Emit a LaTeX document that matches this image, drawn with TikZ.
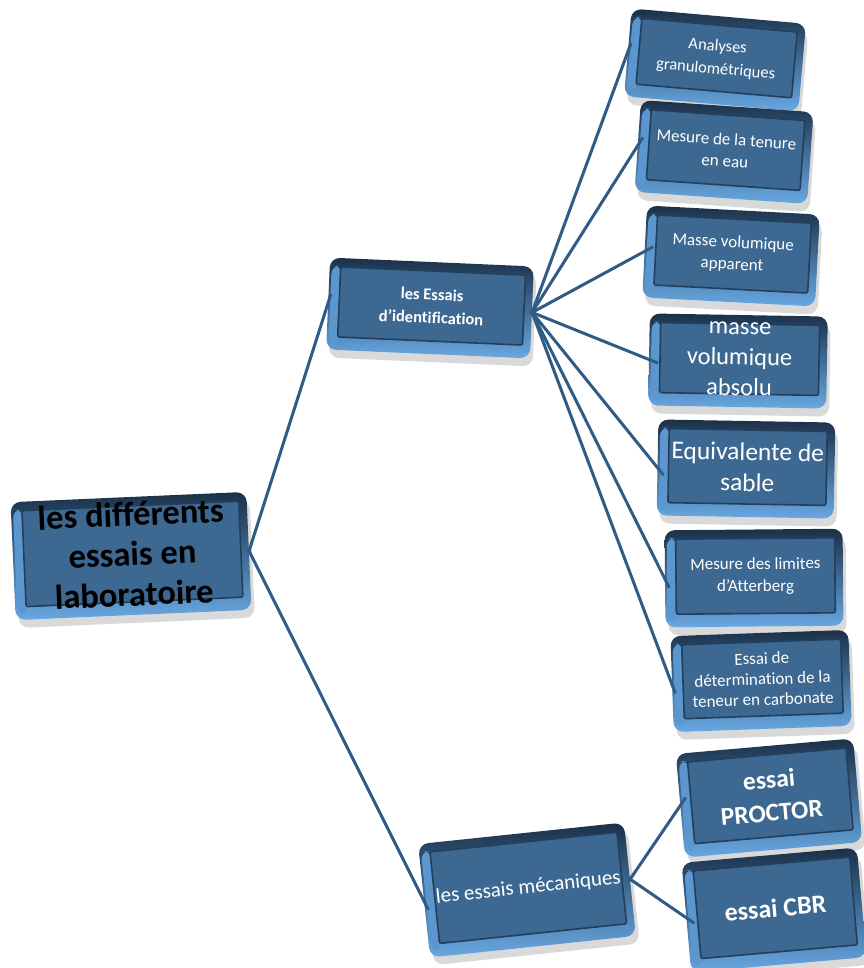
\documentclass[tikz,border=0pt]{standalone}
\usepackage{fontspec}
\setmainfont{Carlito}[Ligatures=NoCommon]
\definecolor{face}{HTML}{3D6891}
\definecolor{edgeD}{HTML}{1B3048}
\definecolor{edgeL}{HTML}{68A8E2}
\definecolor{edgeM}{HTML}{3B6E9E}
\definecolor{faceline}{HTML}{22405E}
\definecolor{conn}{HTML}{2F5B85}
\tikzset{
  conline/.style={draw=conn, line width=3pt, shorten >=-10pt, shorten <=-2pt},
  boxtext/.style={transform shape, text=white, align=center, inner sep=0pt},
}
\newcommand\mkbox[8]{%
\begin{scope}[shift={(#2,#3)},rotate=#6]
  \fill[black,opacity=.15,rounded corners=10pt] ({-#4/2+3},{-#5/2+8}) rectangle ({#4/2+3},{#5/2+8});
  \shade[rounded corners=10pt, top color=edgeD, middle color=edgeM, bottom color=edgeL] ({-#4/2},{-#5/2}) rectangle ({#4/2},{#5/2});
  \fill[edgeL!70!edgeM, rounded corners=8pt] ({-#4/2+2},{-#5/2+8}) rectangle ({-#4/2+12},{#5/2-6});
  \fill[face, draw=faceline, line width=1.6pt, rounded corners=2pt] ({-#4/2+11},{-#5/2+9}) rectangle ({#4/2-8},{#5/2-13});
  \node[transform shape, minimum width=#4pt, minimum height=#5pt, inner sep=0pt] (#1) at (0,0) {};
  \node[boxtext, #7] at (1.5,-2) {#8};
\end{scope}}
\begin{document}
\begin{tikzpicture}[x=1pt,y=-1pt]
\useasboundingbox (0,0) rectangle (863,968);
% level 1
\mkbox{root}{131}{556}{236}{118}{2.5}{font=\fontsize{34.5}{40}\selectfont\bfseries, text=black}{les différents\\essais en\\laboratoire}
% level 2
\mkbox{ident}{430}{308}{204}{92}{-2.5}{font=\fontsize{16.5}{23}\selectfont\bfseries}{les Essais\\d’identification}
\mkbox{meca}{527}{890}{207}{114}{6}{font=\fontsize{21}{24}\selectfont}{les essais mécaniques}
% level 3
\mkbox{a1}{715}{60}{175}{88}{-5}{font=\fontsize{16.5}{23}\selectfont}{Analyses\\granulométriques}
\mkbox{a2}{724}{152}{173}{92}{-4}{font=\fontsize{17}{22}\selectfont}{Mesure de la tenure\\en eau}
\mkbox{a3}{731}{256}{173}{92}{-3}{font=\fontsize{17}{22}\selectfont}{Masse volumique\\apparent}
\mkbox{a4}{738}{361}{178}{92}{-1}{font=\fontsize{24.5}{30.5}\selectfont}{masse\\volumique\\absolu}
\mkbox{a5}{746}{469}{177}{96}{-1}{font=\fontsize{25.5}{31}\selectfont}{Equivalente de\\sable}
\mkbox{a6}{754}{578}{178}{97}{0.5}{font=\fontsize{17}{22}\selectfont}{Mesure des limites\\d’Atterberg}
\mkbox{a7}{761}{681}{178}{96}{2}{font=\fontsize{17}{20.5}\selectfont}{Essai de\\détermination de la\\teneur en carbonate}
\mkbox{b1}{769}{798}{178}{104}{5}{font=\fontsize{25.5}{33}\selectfont\bfseries}{essai\\PROCTOR}
\mkbox{b2}{774}{910}{176}{110}{5}{font=\fontsize{26}{30}\selectfont\bfseries}{essai CBR}
% connectors
\draw[conline] (root.east) -- (ident.west);
\draw[conline] (root.east) -- (meca.west);
\foreach \t in {a1,a2,a3,a4,a5,a6,a7}
  \draw[conline] (ident.east) -- (\t.west);
\draw[conline] (meca.east) -- (b1.west);
\draw[conline] (meca.east) -- (b2.west);
\end{tikzpicture}
\end{document}
